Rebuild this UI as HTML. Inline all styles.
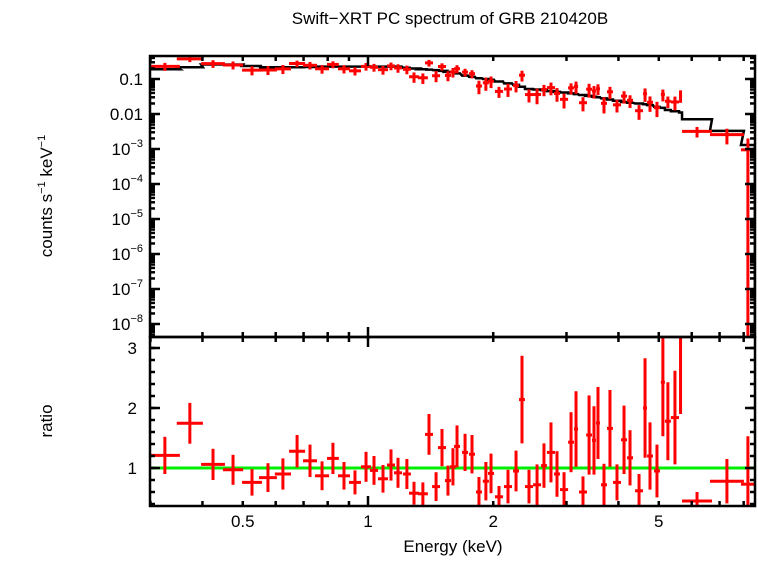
<!DOCTYPE html>
<html><head><meta charset="utf-8"><style>
html,body{margin:0;padding:0;background:#fff}
svg text{font-family:"Liberation Sans",sans-serif;fill:#000}
</style></head><body>
<svg id="chart" width="758" height="556" viewBox="0 0 758 556" xmlns="http://www.w3.org/2000/svg">
<text x="450" y="24" font-size="17" text-anchor="middle">Swift−XRT PC spectrum of GRB 210420B</text>
<text transform="translate(52,196) rotate(-90)" font-size="17" text-anchor="middle">counts s<tspan font-size="11" dy="-7">−1</tspan><tspan dy="7"> keV</tspan><tspan font-size="11" dy="-7">−1</tspan></text>
<text transform="translate(52,421) rotate(-90)" font-size="17" text-anchor="middle">ratio</text>
<text x="453" y="552" font-size="17" text-anchor="middle">Energy (keV)</text>
<g id="g"></g>
</svg>
<script>
const eLo=[0.299,0.347,0.397,0.448,0.498,0.547,0.597,0.646,0.698,0.746,0.797,0.847,0.900,0.962,1.011,1.057,1.111,1.155,1.213,1.255,1.318,1.371,1.426,1.473,1.531,1.574,1.610,1.683,1.749,1.818,1.888,1.943,2.019,2.123,2.232,2.307,2.384,2.493,2.606,2.692,2.800,2.894,3.027,3.127,3.215,3.345,3.455,3.532,3.631,3.754,3.880,4.057,4.195,4.385,4.583,4.686,4.870,5.058,5.173,5.346,5.594,5.687,6.637,7.88];
const eHi=[0.353,0.401,0.453,0.501,0.556,0.604,0.653,0.706,0.754,0.806,0.851,0.905,0.962,1.017,1.057,1.117,1.161,1.207,1.268,1.326,1.393,1.433,1.490,1.540,1.583,1.627,1.664,1.740,1.808,1.879,1.953,2.009,2.112,2.219,2.307,2.384,2.493,2.606,2.692,2.816,2.894,3.027,3.127,3.199,3.361,3.455,3.532,3.612,3.754,3.880,4.057,4.195,4.335,4.583,4.686,4.842,5.032,5.173,5.346,5.594,5.687,6.714,8.01,8.51];
const ratio=[1.21,1.745,1.06,0.97,0.76,0.84,0.9,1.28,1.12,0.87,1.16,0.87,0.76,1.02,0.96,0.82,1.05,0.92,0.9,0.58,0.57,1.56,0.69,1.34,0.79,1.02,1.36,1.26,1.23,0.6,0.78,0.91,0.52,0.69,0.95,2.14,0.69,0.72,1.04,1.26,0.9,0.64,1.43,1.65,0.6,1.55,1.46,1.75,0.72,1.66,0.76,1.47,1.17,0.62,2.0,1.2,0.95,2.43,1.78,1.84,3.1,0.45,0.78,0.73];
const ratioErr=[0.31,0.34,0.26,0.25,0.22,0.24,0.26,0.27,0.27,0.24,0.26,0.23,0.2,0.25,0.24,0.23,0.26,0.25,0.25,0.19,0.19,0.34,0.24,0.31,0.25,0.31,0.35,0.31,0.32,0.25,0.32,0.33,0.18,0.28,0.34,0.73,0.28,0.34,0.37,0.5,0.38,0.29,0.5,0.63,0.26,0.66,0.57,0.6,0.35,0.64,0.3,0.57,0.46,0.28,0.83,0.56,0.44,0.9,0.65,0.78,1.2,0.15,0.37,0.8];
const model=[0.19,0.216,0.26,0.26,0.235,0.216,0.216,0.216,0.22,0.225,0.225,0.225,0.225,0.225,0.225,0.225,0.225,0.225,0.21,0.2,0.19,0.185,0.18,0.17,0.16,0.155,0.145,0.125,0.115,0.105,0.1,0.095,0.085,0.075,0.068,0.06,0.052,0.05,0.048,0.045,0.043,0.041,0.039,0.037,0.035,0.033,0.031,0.03,0.028,0.026,0.024,0.022,0.021,0.02,0.019,0.018,0.016,0.015,0.013,0.012,0.011,0.0071,0.0033,0.0013];
const yTopLabels=["0.1","0.01","10|-3","10|-4","10|-5","10|-6","10|-7","10|-8"];
const ratioTicks=[1,2,3];
const xTicks=[0.5,1,2,5];

const L=150,R=755,T=56,M=337,B=506;
const X=e=>368+416*Math.log10(e);
const YT=v=>79-35*(Math.log10(v)+1);
const YB=r=>468-(r-1)*60;
const NS="http://www.w3.org/2000/svg";
const g=document.getElementById('g');
function el(t,a){const e=document.createElementNS(NS,t);for(const k in a)e.setAttribute(k,a[k]);g.appendChild(e);return e;}
function line(x1,y1,x2,y2,c,w){return el('line',{x1,y1,x2,y2,stroke:c,'stroke-width':w});}

// clip paths
const defs=el('defs',{});
defs.innerHTML='<clipPath id="ct"><rect x="150" y="56" width="605" height="281"/></clipPath><clipPath id="cb"><rect x="150" y="337" width="605" height="169"/></clipPath>';

// green unity line
const gl=line(L,YB(1),R,YB(1),'#00ee00',3);



const gt=el('g',{'clip-path':'url(#ct)'});
const gb=el('g',{'clip-path':'url(#cb)'});
// model step
let d='';
for(let i=0;i<model.length;i++){
  const y=YT(model[i]);
  d+=(i===0?'M':'L')+X(eLo[i])+','+y+'L'+X(eHi[i])+','+y;
}
d+='L'+X(eHi[eHi.length-1])+','+(M+20);
const mp=document.createElementNS(NS,'path');
mp.setAttribute('d',d);mp.setAttribute('fill','none');mp.setAttribute('stroke','#000');mp.setAttribute('stroke-width','2.5');


gt.appendChild(mp);

for(let i=0;i<ratio.length;i++){
  const cx=X(Math.sqrt(eLo[i]*eHi[i]));
  const v=model[i]*ratio[i], ve=model[i]*ratioErr[i];
  const lo=v-ve>0?YT(v-ve):M+20;
  const pt=document.createElementNS(NS,'g');
  
  
  pt.innerHTML=`<line x1="${X(eLo[i])}" x2="${X(eHi[i])}" y1="${YT(v)}" y2="${YT(v)}" stroke="red" stroke-width="3"/><line x1="${cx}" x2="${cx}" y1="${YT(v+ve)}" y2="${lo}" stroke="red" stroke-width="3"/>`;
  gt.appendChild(pt);
  const pr=document.createElementNS(NS,'g');
  
  
  pr.innerHTML=`<line x1="${X(eLo[i])}" x2="${X(eHi[i])}" y1="${YB(ratio[i])}" y2="${YB(ratio[i])}" stroke="red" stroke-width="3"/><line x1="${cx}" x2="${cx}" y1="${YB(ratio[i]+ratioErr[i])}" y2="${YB(ratio[i]-ratioErr[i])}" stroke="red" stroke-width="3"/>`;
  gb.appendChild(pr);
}

// frames
const f1=el('rect',{x:L,y:T,width:R-L,height:M-T,fill:'none',stroke:'#000','stroke-width':2.5});


const f2=el('rect',{x:L,y:M,width:R-L,height:B-M,fill:'none',stroke:'#000','stroke-width':2.5});



// x ticks
for(let dec=-1;dec<=0;dec++){
  for(let k=1;k<=9;k++){
    const e=k*Math.pow(10,dec);
    if(e<0.3||e>8.5)continue;
    const x=X(e),len=k===1?10:5;
    [T,M,B].forEach(y=>{
      if(y!==B)line(x,y,x,y+len,'#000',2.5);
      if(y!==T)line(x,y,x,y-len,'#000',2.5);
    });
  }
}
xTicks.forEach(t=>{
  const tx=el('text',{x:X(t),y:527,'font-size':17,'text-anchor':'middle'});
  tx.textContent=String(t);
  
  
});
// top y ticks
for(let p=-9;p<=0;p++){
  for(let k=1;k<=9;k++){
    const v=k*Math.pow(10,p);const y=YT(v);
    if(y<T||y>M)continue;
    const len=k===1?10:5;
    line(L,y,L+len,y,'#000',2.5);line(R,y,R-len,y,'#000',2.5);
  }
}
yTopLabels.forEach((s,i)=>{
  const y=YT(Math.pow(10,-1-i))+6;
  const tx=el('text',{x:143,y:y,'font-size':17,'text-anchor':'end'});
  const parts=s.split('|');
  if(parts.length===1)tx.textContent=s;
  else tx.innerHTML=parts[0]+'<tspan font-size="11" dy="-8">−'+parts[1].slice(1)+'</tspan>';
  
  
});
// ratio ticks
for(let r=0.4;r<=3.15;r+=0.2){
  const y=YB(r);line(L,y,L+5,y,'#000',2.5);line(R,y,R-5,y,'#000',2.5);
}
ratioTicks.forEach(r=>{
  line(L,YB(r),L+10,YB(r),'#000',2.5);line(R,YB(r),R-10,YB(r),'#000',2.5);
  const tx=el('text',{x:137,y:YB(r)+6,'font-size':17,'text-anchor':'end'});
  tx.textContent=String(r);
  
  
});
</script>
</body></html>
